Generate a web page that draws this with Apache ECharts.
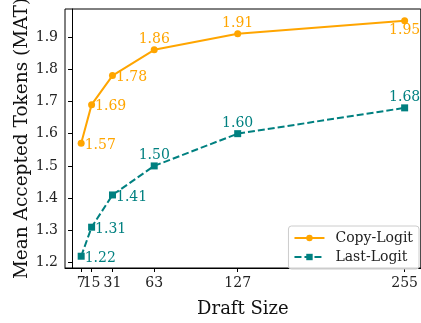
<!DOCTYPE html>
<html>
<head>
<meta charset="utf-8">
<script src="https://cdn.jsdelivr.net/npm/echarts@6/dist/echarts.min.js"></script>
<style>
  html, body { margin: 0; padding: 0; background: #fff; }
  #chart { width: 421px; height: 323px; }
</style>
</head>
<body>
<div id="chart"></div>
<script>
// Draft sizes and mean accepted tokens for the two drafting strategies
const draftSizes = [7, 15, 31, 63, 127, 255];
const copyLogit = [1.57, 1.69, 1.78, 1.86, 1.91, 1.95];
const lastLogit = [1.22, 1.31, 1.41, 1.50, 1.60, 1.68];
const xTicks = [7, 15, 31, 63, 127, 255];
const yTicks = [1.2, 1.3, 1.4, 1.5, 1.6, 1.7, 1.8, 1.9];

// where each value label sits relative to its marker
const copySides = ['right', 'right', 'right', 'top', 'top', 'bottom'];
const lastSides = ['right', 'right', 'right', 'top', 'top', 'top'];

const FONT = 'DejaVu Serif';
const ORANGE = '#FFA500';
const TEAL = '#008080';
const X_MIN = -5.4, X_MAX = 267.4;

// the 7 and 15 labels sit almost on top of each other, so the tick labels
// are split across two stacked axes to keep every one of them drawn
const xLabelsA = xTicks.filter((v, i) => i % 2 === 0);
const xLabelsB = xTicks.filter((v, i) => i % 2 === 1);

function labelFor(side) {
  if (side === 'right') return { position: 'right', distance: 0, offset: [0, 2] };
  if (side === 'top') return { position: 'top', distance: 0 };
  return { position: 'bottom', distance: -1 };
}

function points(values, sides) {
  return draftSizes.map((x, i) => ({
    value: [x, values[i]],
    label: labelFor(sides[i])
  }));
}

const tickLabelStyle = {
  interval: 0, margin: 8,
  showMinLabel: true, showMaxLabel: true, hideOverlap: false,
  fontFamily: FONT, fontSize: 14, color: '#222'
};

const chart = echarts.init(document.getElementById('chart'), null, { renderer: 'canvas' });

chart.setOption({
  animation: false,
  backgroundColor: '#fff',
  grid: {
    left: 65, top: 9, right: -4, bottom: 44,
    show: true, borderColor: '#000', borderWidth: 1, backgroundColor: 'transparent'
  },
  xAxis: [
    {
      type: 'value',
      min: X_MIN, max: X_MAX,
      position: 'bottom',
      name: 'Draft Size',
      nameLocation: 'middle',
      nameGap: 32,
      nameMoveOverlap: false,
      nameTextStyle: { fontFamily: FONT, fontSize: 18, color: '#111' },
      axisLine: { show: true, lineStyle: { color: '#000', width: 1 } },
      axisTick: { show: true, length: 4, inside: false, customValues: xTicks, lineStyle: { color: '#000' } },
      axisLabel: Object.assign({ customValues: xLabelsA }, tickLabelStyle),
      splitLine: { show: false }
    },
    {
      type: 'value',
      min: X_MIN, max: X_MAX,
      position: 'bottom',
      offset: 0,
      axisLine: { show: false },
      axisTick: { show: false },
      axisLabel: Object.assign({ customValues: xLabelsB }, tickLabelStyle),
      splitLine: { show: false }
    }
  ],
  yAxis: {
    type: 'value',
    min: 1.1835, max: 1.9865,
    name: 'Mean Accepted Tokens (MAT)',
    nameLocation: 'middle',
    nameGap: 33,
    nameMoveOverlap: false,
    nameTextStyle: { fontFamily: FONT, fontSize: 18.5, color: '#111' },
    axisLine: { show: true, lineStyle: { color: '#000', width: 1 } },
    axisTick: { show: true, length: 4, inside: false, customValues: yTicks, lineStyle: { color: '#000' } },
    axisLabel: {
      customValues: yTicks, margin: 7,
      showMinLabel: true, showMaxLabel: true,
      fontFamily: FONT, fontSize: 14, color: '#222',
      formatter: v => v.toFixed(1)
    },
    splitLine: { show: false }
  },
  legend: {
    orient: 'vertical',
    right: 2, top: 226,
    itemWidth: 30, itemHeight: 8, itemGap: 5,
    padding: [5, 6, 5, 5],
    borderColor: '#ccc', borderWidth: 1, borderRadius: 3,
    backgroundColor: 'rgba(255,255,255,0.8)',
    textStyle: { fontFamily: FONT, fontSize: 14, color: '#222', padding: [0, 0, 0, 6] },
    data: ['Copy-Logit', 'Last-Logit']
  },
  series: [
    {
      name: 'Copy-Logit',
      type: 'line',
      xAxisIndex: 0,
      data: points(copyLogit, copySides),
      symbol: 'circle', symbolSize: 7,
      lineStyle: { color: ORANGE, width: 2 },
      itemStyle: { color: ORANGE },
      label: {
        show: true, fontFamily: FONT, fontSize: 14, color: ORANGE,
        formatter: p => p.value[1].toFixed(2)
      },
      z: 3
    },
    {
      name: 'Last-Logit',
      type: 'line',
      xAxisIndex: 0,
      data: points(lastLogit, lastSides),
      symbol: 'rect', symbolSize: 7,
      lineStyle: { color: TEAL, width: 2, type: [7, 3] },
      itemStyle: { color: TEAL },
      label: {
        show: true, fontFamily: FONT, fontSize: 14, color: TEAL,
        formatter: p => p.value[1].toFixed(2)
      },
      z: 3
    }
  ]
});
</script>
</body>
</html>
